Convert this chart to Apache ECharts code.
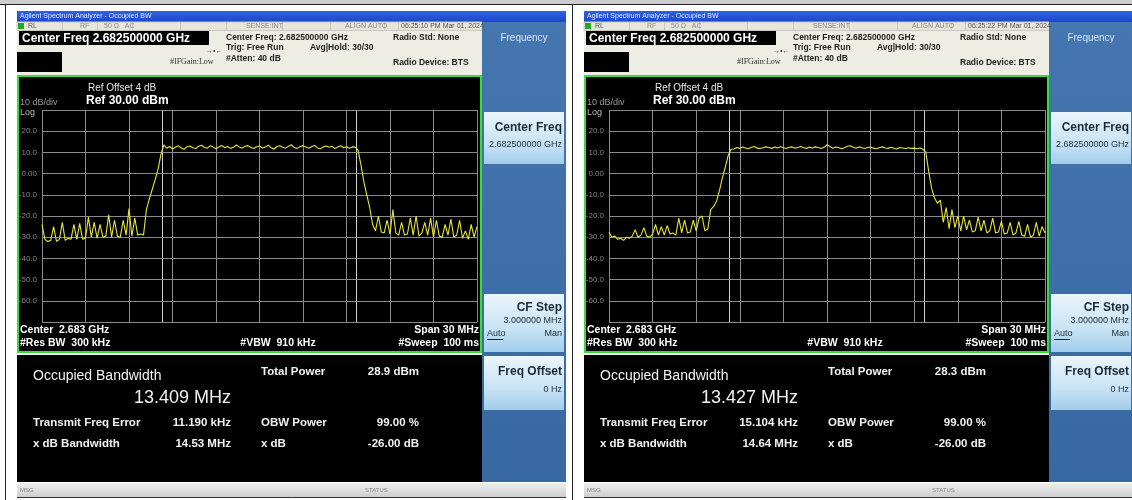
<!DOCTYPE html>
<html><head><meta charset="utf-8">
<script src="https://cdn.jsdelivr.net/npm/echarts@6/dist/echarts.min.js"></script>
<style>html,body{margin:0;padding:0;background:#fff}#c{width:1132px;height:500px}</style>
</head><body><div id="c"></div>
<script>
// ---- data ----
const startMHz = -15, stepMHz = 0.2;           // sweep: 2.683 GHz centre, 30 MHz span
const traceLeft = [
 -24,-31,-32,-31.5,-25,-32,-31,-23,-31.5,-30.5,
 -31,-24,-31,-23.5,-31,-30.5,-20.5,-30,-23,-30.5,
 -24,-30,-29.5,-19.5,-30,-22,-29.5,-30,-22,-29,
 -16.5,-29.5,-21,-29,-28.5,-29,-17,-12,-7.5,-3,
 2,9,13.5,
 12.0,12.8,11.6,12.4,13.2,12.1,11.5,12.7,13.0,12.2,
 11.8,12.9,13.4,12.3,12.0,13.1,12.5,11.7,12.6,13.3,
 12.2,12.8,11.9,12.4,13.5,12.6,12.0,12.9,13.2,12.3,
 11.8,12.7,13.0,12.1,12.5,13.4,12.2,11.6,12.8,13.1,
 12.4,12.0,12.9,13.6,12.3,11.9,12.7,13.2,12.5,12.0,
 12.8,13.3,12.1,11.7,12.6,13.0,12.4,12.9,11.8,12.5,
 13.1,12.2,12.7,12.0,12.6,
 12.5,11,
 4,-4,-10,-16,-24,-27,-20,-27.5,-28,-22,
 -28.5,-17,-28,-29,-23,-29,-28.5,-21,-29,-20,
 -29.5,-28,-23,-29,-21,-30,-22,-29.5,-30,-24,
 -29,-21.5,-30,-29,-22,-30.5,-27,-31,-24,-30,-25
];
const traceRight = [
 -27.5,-30,-29.5,-31,-30.5,-31.5,-30,-30.5,-29.5,-26.5,
 -30,-29,-25.5,-29.5,-30,-28.5,-24,-29,-25,-29,
 -24.5,-28.5,-28,-29,-21,-28,-22,-28,-27.5,-22,
 -27,-21,-20,-27,-26,-17,-15.5,-13,-8,-2,
 3,8.5,11.5,
 11.6,12.3,11.9,12.5,12.1,11.7,12.4,12.8,12.0,11.8,
 12.2,12.6,12.3,11.9,12.5,12.1,12.7,12.2,11.8,12.4,
 12.6,12.0,12.3,12.8,12.2,11.9,12.5,12.1,12.6,12.3,
 11.8,12.4,13.6,12.8,12.0,12.5,12.3,11.7,12.2,12.9,
 13.1,12.4,12.0,12.6,12.2,11.8,12.3,12.5,12.0,11.7,
 12.2,12.6,12.1,11.9,12.4,12.0,11.6,12.3,12.1,11.8,
 12.2,11.9,12.0,11.7,12.1,11.5,
 10,1,-7,-11.5,-14,-12.5,-23,-16,-26,-17,
 -25.5,-20,-27,-20,-26.5,-22,-27.5,-27,-20.5,-27,
 -22,-28,-27,-21,-28,-27.5,-22.5,-28.5,-28,-23,
 -29,-28,-22.5,-29,-29.5,-24,-30,-29,-23,-29.5,-25,-28
];
const yTickValues = [20,10,0,-10,-20,-30,-40,-50,-60];
const yTickLabels = ['20.0','10.0','0.00','-10.0','-20.0','-30.0','-40.0','-50.0','-60.0'];
const obwMHz      = [13.409, 13.427];
const timeStamps  = ['06:25:10 PM Mar 01, 2024','06:25:22 PM Mar 01, 2024'];
const obwText     = ['13.409 MHz','13.427 MHz'];
const totalPower  = ['28.9 dBm','28.3 dBm'];
const freqError   = ['11.190 kHz','15.104 kHz'];
const xdbBW       = ['14.53 MHz','14.64 MHz'];
const panelOffsets = [0, 567];

// ---- build ----
const F = "'Liberation Sans', Arial, sans-serif";
const G = echarts.graphic;
const els = [];
function rect(x,y,w,h,fill,extra){ els.push(Object.assign({type:'rect',z:1,silent:true,shape:{x,y,width:w,height:h},style:{fill}},extra||{})); }
function txt(x,y,t,size,color,opt){ opt=opt||{}; els.push({type:'text',z:50,silent:true,x,y,style:{text:t,fill:color,font:(opt.w||'normal')+' '+size+'px '+(opt.f||F),textAlign:opt.a||'left',textVerticalAlign:'middle'}}); }
function line(x1,y1,x2,y2,c,w){ els.push({type:'line',z:2,silent:true,shape:{x1,y1,x2,y2},style:{stroke:c,lineWidth:w||1}}); }

// page chrome
rect(0,0,1132,4,'#cdcdcd');
line(0,4.5,1132,4.5,'#222',1);
line(5.5,4,5.5,500,'#222',1);
line(572.5,4,572.5,500,'#222',1);

const grids=[], xAxes=[], yAxes=[], series=[];
panelOffsets.forEach((ox,p)=>{
  const pw = p===0 ? 549 : 1132-584;
  // title bar
  rect(17+ox,11,pw,11,new G.LinearGradient(0,0,0,1,[{offset:0,color:'#2d62e6'},{offset:1,color:'#1a47c8'}]));
  txt(20+ox,16.5,'Agilent Spectrum Analyzer - Occupied BW',7,'#dfe7ff');
  // info area
  rect(17+ox,22,465,53,'#eeede4');
  rect(17+ox,22,465,8.5,'#e7e6dc',{style:{fill:'#e7e6dc',stroke:'#c9c8bd',lineWidth:1}});
  [62,97,132,180,226,282,330,384,398].forEach(sx=>line(sx+ox+0.5,22,sx+ox+0.5,30.5,'#c9c8bd',1));
  rect(18+ox,23,6,6,'#22aa22');
  txt(28+ox,26.3,'RL',7,'#555');
  txt(80+ox,26.3,'RF',7,'#888');
  txt(104+ox,26.3,'50 Ω   AC',7,'#888');
  txt(246+ox,26.3,'SENSE:INT',7,'#888');
  txt(345+ox,26.3,'ALIGN AUTO',7,'#888');
  txt(401+ox,26.3,timeStamps[p],7,'#555');
  rect(19+ox,31,190,14,'#000');
  txt(22+ox,38.5,'Center Freq 2.682500000 GHz',12,'#fff',{w:'bold'});
  rect(17+ox,52,45,20,'#000');
  txt(170+ox,62,'#IFGain:Low',8,'#333',{f:"'Liberation Serif', serif"});
  txt(206+ox,51,'→•←',7,'#333');
  txt(226+ox,37.5,'Center Freq: 2.682500000 GHz',8.5,'#222',{w:'bold'});
  txt(226+ox,48,'Trig: Free Run',8.5,'#222',{w:'bold'});
  txt(310+ox,48,'Avg|Hold: 30/30',8.5,'#222',{w:'bold'});
  txt(226+ox,58.5,'#Atten: 40 dB',8.5,'#222',{w:'bold'});
  txt(393+ox,37.5,'Radio Std: None',8.5,'#222',{w:'bold'});
  txt(393+ox,63,'Radio Device: BTS',8.5,'#222',{w:'bold'});
  // softkey panel
  const sw = p===0 ? 84 : 1132-1049;
  rect(482+ox,22,sw,460,new G.LinearGradient(0,0,0,1,[{offset:0,color:'#4576b0'},{offset:1,color:'#3868a2'}]));
  txt(524+ox,38,'Frequency',10,'#d6e6f7',{a:'center'});
  const keyFill = ()=>new G.LinearGradient(0,0,0,1,[{offset:0,color:'#eaf5fc'},{offset:0.6,color:'#c8e3f4'},{offset:1,color:'#a2cdec'}]);
  rect(484+ox,112,80,52,keyFill());
  txt(562+ox,128,'Center Freq',12,'#1b2a3a',{w:'bold',a:'right'});
  txt(562+ox,145,'2.682500000 GHz',9,'#1b2a3a',{a:'right'});
  rect(484+ox,294,80,58,keyFill());
  txt(562+ox,308,'CF Step',12,'#1b2a3a',{w:'bold',a:'right'});
  txt(562+ox,321,'3.000000 MHz',9,'#1b2a3a',{a:'right'});
  txt(487+ox,334,'Auto',9,'#1b2a3a');
  line(487+ox,339.5,503+ox,339.5,'#1b2a3a',1);
  txt(562+ox,334,'Man',9,'#1b2a3a',{a:'right'});
  rect(484+ox,356,80,54,keyFill());
  txt(562+ox,372,'Freq Offset',12,'#1b2a3a',{w:'bold',a:'right'});
  txt(562+ox,390,'0 Hz',9,'#1b2a3a',{a:'right'});
  // plot box
  rect(18+ox,76,463,276,'#000',{style:{fill:'#000',stroke:'#34e034',lineWidth:2}});
  txt(88+ox,88,'Ref Offset 4 dB',10,'#e6e6e6');
  txt(86+ox,101,'Ref 30.00 dBm',12,'#fff',{w:'bold'});
  txt(20+ox,103,'10 dB/div',9,'#9a9a9a');
  txt(20+ox,113,'Log',9,'#bdbdbd');
  txt(20+ox,330,'Center  2.683 GHz',10.5,'#fff',{w:'bold'});
  txt(20+ox,343,'#Res BW  300 kHz',10.5,'#fff',{w:'bold'});
  txt(278+ox,343,'#VBW  910 kHz',10.5,'#fff',{w:'bold',a:'center'});
  txt(479+ox,330,'Span 30 MHz',10.5,'#fff',{w:'bold',a:'right'});
  txt(479+ox,343,'#Sweep  100 ms',10.5,'#fff',{w:'bold',a:'right'});
  // results box
  rect(17+ox,355,465,127,'#000');
  txt(33+ox,376,'Occupied Bandwidth',14,'#f2f2f2');
  txt(231+ox,398,obwText[p],18,'#f2f2f2',{a:'right'});
  txt(261+ox,372,'Total Power',11.5,'#f2f2f2',{w:'bold'});
  txt(419+ox,372,totalPower[p],11.5,'#f2f2f2',{w:'bold',a:'right'});
  txt(33+ox,423,'Transmit Freq Error',11.5,'#f2f2f2',{w:'bold'});
  txt(231+ox,423,freqError[p],11.5,'#f2f2f2',{w:'bold',a:'right'});
  txt(261+ox,423,'OBW Power',11.5,'#f2f2f2',{w:'bold'});
  txt(419+ox,423,'99.00 %',11.5,'#f2f2f2',{w:'bold',a:'right'});
  txt(33+ox,444,'x dB Bandwidth',11.5,'#f2f2f2',{w:'bold'});
  txt(231+ox,444,xdbBW[p],11.5,'#f2f2f2',{w:'bold',a:'right'});
  txt(261+ox,444,'x dB',11.5,'#f2f2f2',{w:'bold'});
  txt(419+ox,444,'-26.00 dB',11.5,'#f2f2f2',{w:'bold',a:'right'});
  // status bar
  rect(17+ox,483,pw,14,new G.LinearGradient(0,0,0,1,[{offset:0,color:'#eeeeee'},{offset:1,color:'#cfcfcf'}]));
  line(17+ox,497.5,17+ox+pw,497.5,'#333',1);
  txt(20+ox,490,'MSG',6,'#888');
  txt(365+ox,490,'STATUS',6,'#888');

  // chart grid
  grids.push({left:42+ox, top:110, width:435+(p?1:0), height:212, show:false});
  xAxes.push({type:'value', gridIndex:p, min:-15, max:15, interval:3, z:10,
    axisLine:{show:false}, axisTick:{show:false}, axisLabel:{show:false},
    splitLine:{show:true, lineStyle:{color:'#8a8a8a', width:1}}});
  yAxes.push({type:'value', gridIndex:p, min:-70, max:30, interval:10, z:10,
    axisLine:{show:false}, axisTick:{show:false},
    axisLabel:{color:'#8a8a8a', fontSize:8, fontFamily:F, margin:5,
      formatter:v=>{const k=yTickValues.indexOf(v); return k<0?'':yTickLabels[k];}},
    splitLine:{show:true, lineStyle:{color:'#8a8a8a', width:1}}});
  const tr = p===0 ? traceLeft : traceRight;
  series.push({type:'line', xAxisIndex:p, yAxisIndex:p, z:20, symbol:'none', clip:true,
    lineStyle:{color:'#e4e43a', width:1.1}, animation:false,
    data: tr.map((v,i)=>[startMHz+i*stepMHz, v]),
    markLine:{silent:true, symbol:'none', animation:false, label:{show:false},
      lineStyle:{color:'#cfcfcf', type:'solid', width:1},
      data:[{xAxis:-obwMHz[p]/2},{xAxis:obwMHz[p]/2},{yAxis:30}]}});
});

const chart = echarts.init(document.getElementById('c'), null, {renderer:'canvas'});
chart.setOption({
  backgroundColor:'#ffffff', animation:false,
  graphic:{elements:els},
  grid:grids, xAxis:xAxes, yAxis:yAxes, series:series
});
</script></body></html>
